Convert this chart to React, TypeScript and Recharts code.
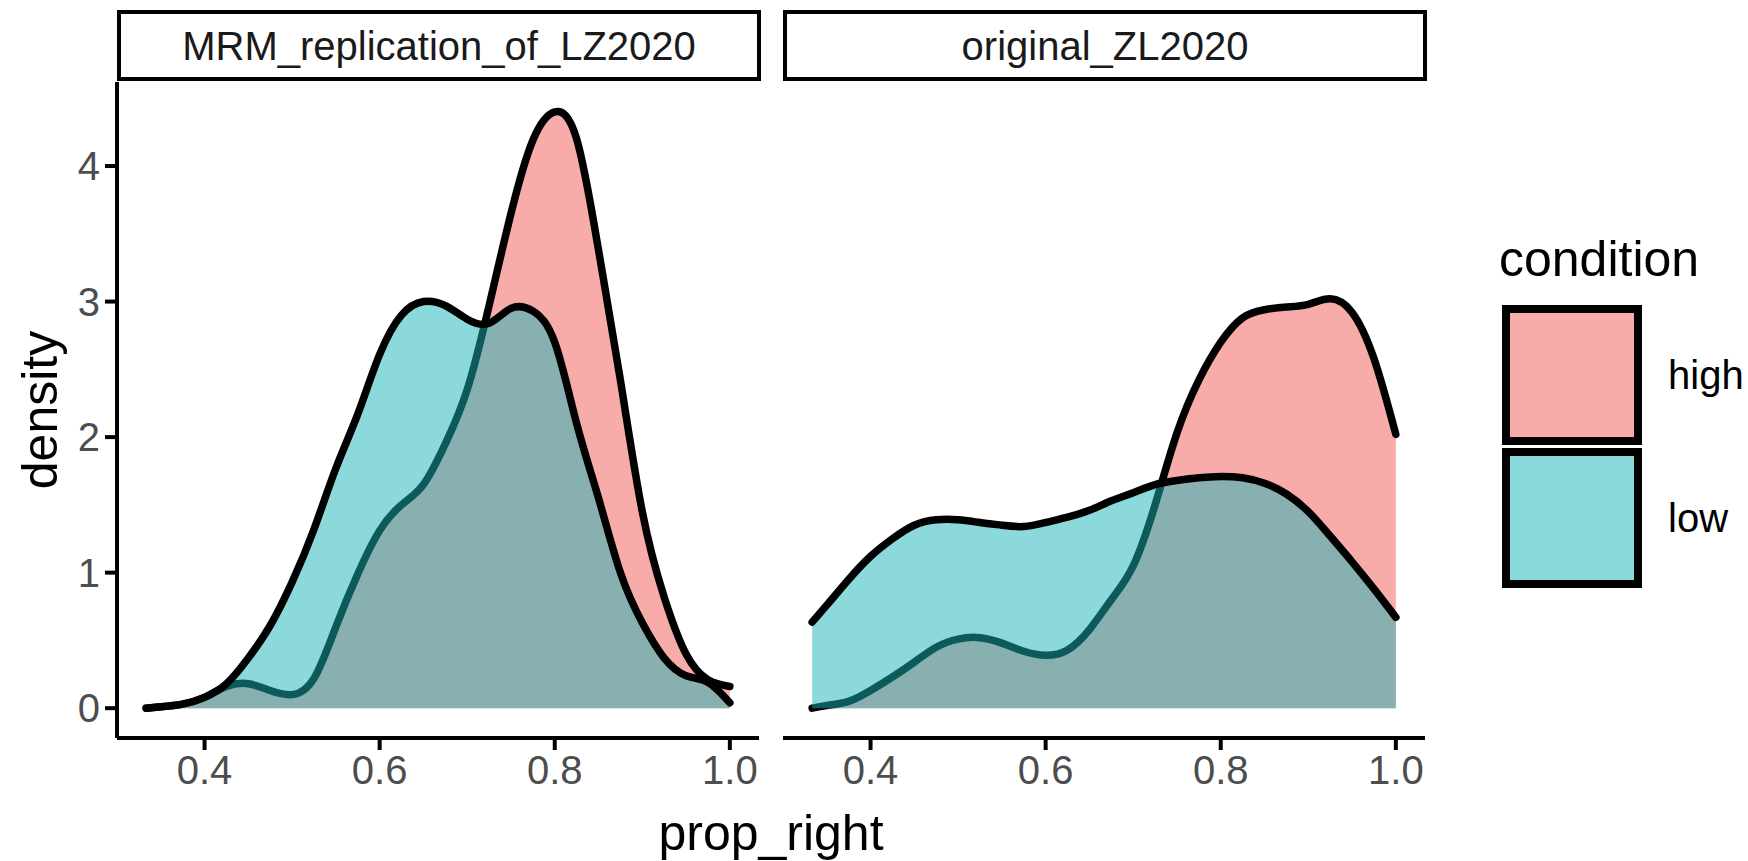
import { AreaChart, Area, XAxis, YAxis } from "recharts";

// prop_right grid shared by both series in a panel
const propRight = [
  0.3333, 0.35, 0.375, 0.4, 0.425, 0.45, 0.475, 0.5, 0.525, 0.55, 0.575, 0.6,
  0.625, 0.65, 0.675, 0.7, 0.725, 0.75, 0.775, 0.8, 0.825, 0.85, 0.875, 0.9,
  0.925, 0.95, 0.975, 1.0,
];

// MRM_replication_of_LZ2020
const mrmHigh = [
  0, 0.01, 0.03, 0.08, 0.16, 0.18, 0.13, 0.1, 0.22, 0.6, 0.99, 1.31, 1.5,
  1.65, 1.95, 2.35, 2.97, 3.65, 4.19, 4.4, 4.2, 3.38, 2.42, 1.45, 0.82, 0.4,
  0.21, 0.16,
];
const mrmLow = [
  0, 0.01, 0.03, 0.08, 0.18, 0.37, 0.61, 0.93, 1.32, 1.77, 2.17, 2.61, 2.9,
  3.0, 2.97, 2.87, 2.84, 2.95, 2.93, 2.7, 2.1, 1.55, 1.0, 0.63, 0.37, 0.24,
  0.19, 0.04,
];

// original_ZL2020
const origHigh = [
  0, 0.02, 0.05, 0.13, 0.23, 0.34, 0.45, 0.51, 0.52, 0.48, 0.42, 0.39, 0.43,
  0.58, 0.8, 1.05, 1.5, 2.03, 2.42, 2.7, 2.88, 2.94, 2.96, 2.98, 3.02, 2.92,
  2.58, 2.02,
];
const origLow = [
  0.635, 0.76, 0.95, 1.12, 1.25, 1.35, 1.39, 1.39, 1.37, 1.35, 1.34, 1.37,
  1.41, 1.46, 1.53, 1.59, 1.65, 1.68, 1.7, 1.71, 1.7, 1.66, 1.58, 1.45, 1.27,
  1.08, 0.88, 0.67,
];

const xTicks = [0.4, 0.6, 0.8, 1.0];
const yTicks = [0, 1, 2, 3, 4];
const panelNames = ["MRM_replication_of_LZ2020", "original_ZL2020"];
const conditions = ["high", "low"];

const FONT = '"Liberation Sans", Arial, Helvetica, sans-serif';
const HIGH_FILL = "#F15956";
const LOW_FILL = "#18B4B6";
const HIGH_KEY = "#F8ACAA";
const LOW_KEY = "#8BDADB";

const mrmRows = propRight.map((x, i) => ({ x, high: mrmHigh[i], low: mrmLow[i] }));
const origRows = propRight.map((x, i) => ({ x, high: origHigh[i], low: origLow[i] }));

type Row = { x: number; high: number; low: number };

function Panel({ data, left, width, showY }: { data: Row[]; left: number; width: number; showY: boolean }) {
  return (
    <div style={{ position: "absolute", left, top: 0 }}>
      <AreaChart
        width={width}
        height={861}
        data={data}
        margin={{ top: 82, right: 11, bottom: 63, left: 0 }}
      >
        <XAxis
          type="number"
          dataKey="x"
          domain={[0.3, 1.0333]}
          allowDataOverflow
          ticks={xTicks}
          interval={0}
          tickFormatter={(v: number) => v.toFixed(1)}
          height={60}
          tickSize={12}
          tickMargin={6}
          axisLine={{ stroke: "#000", strokeWidth: 4 }}
          tickLine={{ stroke: "#000", strokeWidth: 4 }}
          tick={{ fill: "#4D4D4D", fontSize: 40 }}
        />
        <YAxis
          type="number"
          domain={[-0.22, 4.62]}
          allowDataOverflow
          ticks={yTicks}
          interval={0}
          hide={!showY}
          width={117}
          tickSize={12}
          tickMargin={5}
          axisLine={{ stroke: "#000", strokeWidth: 4 }}
          tickLine={{ stroke: "#000", strokeWidth: 4 }}
          tick={{ fill: "#4D4D4D", fontSize: 40 }}
        />
        <Area
          type="natural"
          dataKey="high"
          baseValue={0}
          stroke="#000"
          strokeWidth={7.5}
          strokeLinecap="round"
          strokeLinejoin="round"
          fill={HIGH_FILL}
          fillOpacity={0.5}
          dot={false}
          activeDot={false}
          isAnimationActive={false}
        />
        <Area
          type="natural"
          dataKey="low"
          baseValue={0}
          stroke="#000"
          strokeWidth={7.5}
          strokeLinecap="round"
          strokeLinejoin="round"
          fill={LOW_FILL}
          fillOpacity={0.5}
          dot={false}
          activeDot={false}
          isAnimationActive={false}
        />
      </AreaChart>
    </div>
  );
}

export default function App() {
  const strips = [
    { x: 119, w: 640, label: panelNames[0] },
    { x: 785, w: 640, label: panelNames[1] },
  ];
  return (
    <div
      style={{
        position: "absolute",
        left: 0,
        top: 0,
        width: 1748,
        height: 861,
        background: "#fff",
        fontFamily: FONT,
      }}
    >
      <Panel data={mrmRows} left={0} width={770} showY />
      <Panel data={origRows} left={783} width={653} showY={false} />

      <svg
        width={1748}
        height={861}
        style={{ position: "absolute", left: 0, top: 0, pointerEvents: "none" }}
        fontFamily={FONT}
      >
        {strips.map((s) => (
          <g key={s.label}>
            <rect x={s.x} y={12} width={s.w} height={67} fill="#fff" stroke="#000" strokeWidth={4} />
            <text
              x={s.x + s.w / 2}
              y={46}
              textAnchor="middle"
              dominantBaseline="central"
              fontSize={40}
              fill="#1A1A1A"
            >
              {s.label}
            </text>
          </g>
        ))}

        <text
          x={40}
          y={410}
          transform="rotate(-90 40 410)"
          textAnchor="middle"
          dominantBaseline="central"
          fontSize={50}
          fill="#000"
        >
          density
        </text>
        <text x={771} y={833} textAnchor="middle" dominantBaseline="central" fontSize={50} fill="#000">
          prop_right
        </text>

        <text x={1499} y={276} fontSize={50} fill="#000">
          condition
        </text>
        {conditions.map((c, i) => (
          <g key={c}>
            <rect
              x={1506}
              y={309 + i * 143}
              width={132}
              height={132}
              fill={i === 0 ? HIGH_KEY : LOW_KEY}
              stroke="#000"
              strokeWidth={8}
            />
            <text x={1668} y={375 + i * 143} dominantBaseline="central" fontSize={40} fill="#000">
              {c}
            </text>
          </g>
        ))}
      </svg>
    </div>
  );
}
